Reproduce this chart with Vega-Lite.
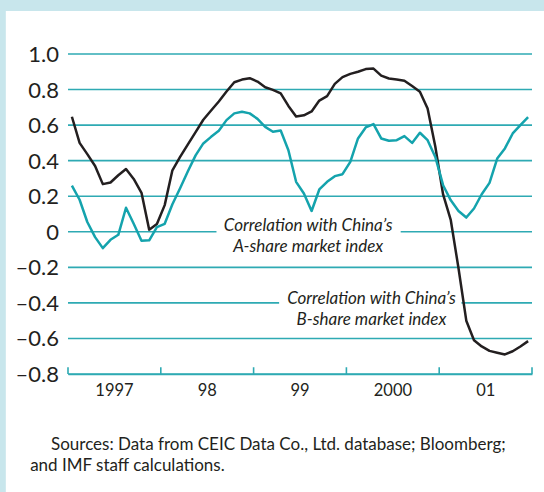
{
  "$schema": "https://vega.github.io/schema/vega-lite/v6.json",
  "width": 464,
  "height": 320,
  "autosize": "none",
  "padding": {"left": 68, "top": 54, "right": 12, "bottom": 118},
  "background": "#c8e6ec",
  "config": {
    "view": {"stroke": null},
    "font": "Lato",
    "axis": {"labelOverlap": false, "labelBound": false, "labelFlush": false}
  },
  "datasets": {
    "corr": [
      {"t": 1997.042, "A_share": 0.26, "B_share": 0.647},
      {"t": 1997.125, "A_share": 0.18, "B_share": 0.5},
      {"t": 1997.208, "A_share": 0.055, "B_share": 0.437},
      {"t": 1997.292, "A_share": -0.03, "B_share": 0.37},
      {"t": 1997.375, "A_share": -0.092, "B_share": 0.268},
      {"t": 1997.458, "A_share": -0.045, "B_share": 0.277},
      {"t": 1997.542, "A_share": -0.017, "B_share": 0.318},
      {"t": 1997.625, "A_share": 0.135, "B_share": 0.353},
      {"t": 1997.708, "A_share": 0.045, "B_share": 0.297},
      {"t": 1997.792, "A_share": -0.05, "B_share": 0.219},
      {"t": 1997.875, "A_share": -0.048, "B_share": 0.012},
      {"t": 1997.958, "A_share": 0.026, "B_share": 0.044},
      {"t": 1998.042, "A_share": 0.045, "B_share": 0.15},
      {"t": 1998.125, "A_share": 0.155, "B_share": 0.346},
      {"t": 1998.208, "A_share": 0.245, "B_share": 0.421},
      {"t": 1998.292, "A_share": 0.34, "B_share": 0.492},
      {"t": 1998.375, "A_share": 0.43, "B_share": 0.561},
      {"t": 1998.458, "A_share": 0.497, "B_share": 0.63},
      {"t": 1998.542, "A_share": 0.534, "B_share": 0.682},
      {"t": 1998.625, "A_share": 0.568, "B_share": 0.733},
      {"t": 1998.708, "A_share": 0.628, "B_share": 0.789},
      {"t": 1998.792, "A_share": 0.666, "B_share": 0.841},
      {"t": 1998.875, "A_share": 0.675, "B_share": 0.856},
      {"t": 1998.958, "A_share": 0.666, "B_share": 0.864},
      {"t": 1999.042, "A_share": 0.635, "B_share": 0.845},
      {"t": 1999.125, "A_share": 0.59, "B_share": 0.813},
      {"t": 1999.208, "A_share": 0.563, "B_share": 0.798},
      {"t": 1999.292, "A_share": 0.57, "B_share": 0.778},
      {"t": 1999.375, "A_share": 0.459, "B_share": 0.708},
      {"t": 1999.458, "A_share": 0.281, "B_share": 0.648},
      {"t": 1999.542, "A_share": 0.215, "B_share": 0.655},
      {"t": 1999.625, "A_share": 0.117, "B_share": 0.677},
      {"t": 1999.708, "A_share": 0.238, "B_share": 0.738},
      {"t": 1999.792, "A_share": 0.281, "B_share": 0.763},
      {"t": 1999.875, "A_share": 0.313, "B_share": 0.832},
      {"t": 1999.958, "A_share": 0.324, "B_share": 0.87},
      {"t": 2000.042, "A_share": 0.393, "B_share": 0.888},
      {"t": 2000.125, "A_share": 0.525, "B_share": 0.9},
      {"t": 2000.208, "A_share": 0.587, "B_share": 0.915},
      {"t": 2000.292, "A_share": 0.606, "B_share": 0.918},
      {"t": 2000.375, "A_share": 0.525, "B_share": 0.878},
      {"t": 2000.458, "A_share": 0.512, "B_share": 0.862},
      {"t": 2000.542, "A_share": 0.515, "B_share": 0.857},
      {"t": 2000.625, "A_share": 0.538, "B_share": 0.85},
      {"t": 2000.708, "A_share": 0.5, "B_share": 0.82},
      {"t": 2000.792, "A_share": 0.557, "B_share": 0.788},
      {"t": 2000.875, "A_share": 0.515, "B_share": 0.694},
      {"t": 2000.958, "A_share": 0.421, "B_share": 0.48},
      {"t": 2001.042, "A_share": 0.262, "B_share": 0.21},
      {"t": 2001.125, "A_share": 0.177, "B_share": 0.065},
      {"t": 2001.208, "A_share": 0.117, "B_share": -0.205},
      {"t": 2001.292, "A_share": 0.08, "B_share": -0.5},
      {"t": 2001.375, "A_share": 0.131, "B_share": -0.61},
      {"t": 2001.458, "A_share": 0.211, "B_share": -0.645},
      {"t": 2001.542, "A_share": 0.275, "B_share": -0.67},
      {"t": 2001.625, "A_share": 0.412, "B_share": -0.68},
      {"t": 2001.708, "A_share": 0.469, "B_share": -0.69},
      {"t": 2001.792, "A_share": 0.553, "B_share": -0.672},
      {"t": 2001.875, "A_share": 0.6, "B_share": -0.645},
      {"t": 2001.958, "A_share": 0.645, "B_share": -0.615}
    ],
    "grid": [
      {"g": -0.8, "label": "–0.8"}, {"g": -0.6, "label": "–0.6"}, {"g": -0.4, "label": "–0.4"},
      {"g": -0.2, "label": "–0.2"}, {"g": 0, "label": "0"}, {"g": 0.2, "label": "0.2"},
      {"g": 0.4, "label": "0.4"}, {"g": 0.6, "label": "0.6"}, {"g": 0.8, "label": "0.8"},
      {"g": 1.0, "label": "1.0"}
    ],
    "years": [
      {"yr": 1997}, {"yr": 1998}, {"yr": 1999}, {"yr": 2000}, {"yr": 2001}, {"yr": 2002}
    ]
  },
  "layer": [
    {
      "data": {"values": [{}]},
      "mark": {"type": "rect", "fill": "#ffffff"},
      "encoding": {
        "x": {
          "datum": 1996.33, "type": "quantitative", "title": null,
          "scale": {"domain": [1997, 2002], "nice": false, "zero": false},
          "axis": {
            "values": [1997, 1998, 1999, 2000, 2001, 2002],
            "labelExpr": "datum.value == 1997 ? '1997' : datum.value == 1998 ? '98' : datum.value == 1999 ? '99' : datum.value == 2000 ? '2000' : datum.value == 2001 ? '01' : ''",
            "labelOffset": 46,
            "labelFlush": false,
            "labelOverlap": false,
            "labelBound": false,
            "labelFont": "Lato",
            "labelFontSize": 16.5,
            "labelColor": "#231f20",
            "labelPadding": 8,
            "ticks": false,
            "domainColor": "#2eaab3",
            "domainWidth": 1.6,
            "grid": false,
            "title": null,
            "zindex": 1
          }
        },
        "x2": {"datum": 2002.3},
        "y": {
          "datum": 1.242, "type": "quantitative", "title": null,
          "scale": {"domain": [-0.8, 1.0], "nice": false, "zero": false},
          "axis": null
        },
        "y2": {"datum": -1.6}
      }
    },
    {
      "data": {"name": "grid"},
      "mark": {"type": "rule", "color": "#2eaab3", "strokeWidth": 1.6},
      "encoding": {
        "y": {"field": "g", "type": "quantitative", "title": null}
      }
    },
    {
      "data": {"name": "years"},
      "mark": {"type": "rule", "color": "#2eaab3", "strokeWidth": 1.6},
      "encoding": {
        "x": {"field": "yr", "type": "quantitative", "title": null},
        "y": {"datum": -0.8, "type": "quantitative"},
        "y2": {"datum": -0.762}
      }
    },
    {
      "data": {"name": "grid"},
      "mark": {"type": "text", "font": "Lato", "fontSize": 22, "color": "#231f20", "align": "right", "baseline": "middle", "dx": -9, "dy": 1},
      "encoding": {
        "y": {"field": "g", "type": "quantitative", "title": null},
        "x": {"datum": 1997, "type": "quantitative"},
        "text": {"field": "label", "type": "nominal"}
      }
    },
    {
      "data": {"values": [{}]},
      "mark": {"type": "rect", "fill": "#ffffff"},
      "encoding": {
        "x": {"datum": 1998.6, "type": "quantitative"},
        "x2": {"datum": 2000.585},
        "y": {"datum": 0.025, "type": "quantitative"},
        "y2": {"datum": -0.025}
      }
    },
    {
      "data": {"values": [{}]},
      "mark": {"type": "rect", "fill": "#ffffff"},
      "encoding": {
        "x": {"datum": 1999.275, "type": "quantitative"},
        "x2": {"datum": 2001.24},
        "y": {"datum": -0.375, "type": "quantitative"},
        "y2": {"datum": -0.425}
      }
    },
    {
      "data": {"name": "corr"},
      "transform": [{"fold": ["B_share", "A_share"], "as": ["series", "value"]}],
      "mark": {"type": "line", "strokeWidth": 2.5, "strokeJoin": "round"},
      "encoding": {
        "x": {"field": "t", "type": "quantitative", "title": null},
        "y": {"field": "value", "type": "quantitative", "title": null},
        "color": {
          "field": "series", "type": "nominal",
          "scale": {"domain": ["B_share", "A_share"], "range": ["#231f20", "#14a3ad"]},
          "legend": null
        }
      }
    },
    {
      "data": {"values": [{}]},
      "mark": {"type": "text", "font": "Lato", "fontStyle": "italic", "fontSize": 17, "color": "#231f20", "align": "center", "baseline": "middle"},
      "encoding": {
        "x": {"datum": 1999.588, "type": "quantitative"},
        "y": {"datum": 0.034, "type": "quantitative"},
        "text": {"value": "Correlation with China’s"}
      }
    },
    {
      "data": {"values": [{}]},
      "mark": {"type": "text", "font": "Lato", "fontStyle": "italic", "fontSize": 17, "color": "#231f20", "align": "center", "baseline": "middle"},
      "encoding": {
        "x": {"datum": 1999.588, "type": "quantitative"},
        "y": {"datum": -0.084, "type": "quantitative"},
        "text": {"value": "A-share market index"}
      }
    },
    {
      "data": {"values": [{}]},
      "mark": {"type": "text", "font": "Lato", "fontStyle": "italic", "fontSize": 17, "color": "#231f20", "align": "center", "baseline": "middle"},
      "encoding": {
        "x": {"datum": 2000.27, "type": "quantitative"},
        "y": {"datum": -0.38, "type": "quantitative"},
        "text": {"value": "Correlation with China’s"}
      }
    },
    {
      "data": {"values": [{}]},
      "mark": {"type": "text", "font": "Lato", "fontStyle": "italic", "fontSize": 17, "color": "#231f20", "align": "center", "baseline": "middle"},
      "encoding": {
        "x": {"datum": 2000.27, "type": "quantitative"},
        "y": {"datum": -0.496, "type": "quantitative"},
        "text": {"value": "B-share market index"}
      }
    },
    {
      "data": {"values": [{}]},
      "mark": {"type": "text", "font": "Lato", "fontSize": 17, "color": "#231f20", "align": "left", "baseline": "middle"},
      "encoding": {
        "x": {"datum": 1996.817, "type": "quantitative"},
        "y": {"datum": -1.199, "type": "quantitative"},
        "text": {"value": "Sources: Data from CEIC Data Co., Ltd. database; Bloomberg;"}
      }
    },
    {
      "data": {"values": [{}]},
      "mark": {"type": "text", "font": "Lato", "fontSize": 17, "color": "#231f20", "align": "left", "baseline": "middle"},
      "encoding": {
        "x": {"datum": 1996.592, "type": "quantitative"},
        "y": {"datum": -1.318, "type": "quantitative"},
        "text": {"value": "and IMF staff calculations."}
      }
    }
  ]
}
